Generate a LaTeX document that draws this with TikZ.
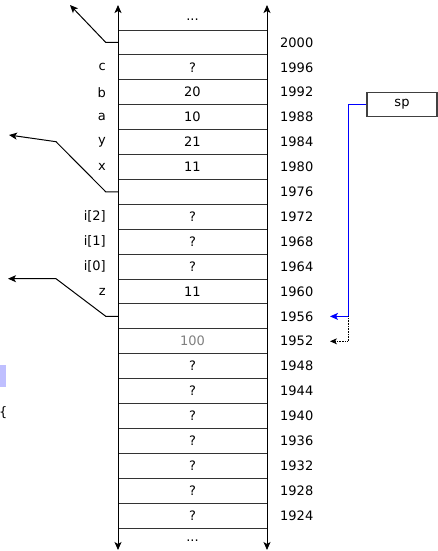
\documentclass[tikz,border=0pt]{standalone}
\usepackage{fontspec}
\setmainfont{DejaVu Sans}
\usetikzlibrary{arrows.meta,calc}
\begin{document}
\begin{tikzpicture}[x=1pt,y=-1pt,
  txt/.style={inner sep=0pt,font=\fontsize{13}{15}\selectfont},
  cell/.style={inner sep=0pt,minimum width=149pt,minimum height=24.9pt,font=\fontsize{13}{15}\selectfont},
  addr/.style={txt,anchor=west},
  var/.style={txt,anchor=east},
  rowline/.style={draw=black!80,line width=0.9pt},
  axis/.style={draw=black,line width=1pt,{Stealth[length=8pt,width=7pt,inset=2pt]}-{Stealth[length=8pt,width=7pt,inset=2pt]}},
  link/.style={draw=black,line width=1pt,-{Stealth[length=8pt,width=7pt,inset=2pt]}},
  spbox/.style={draw=black!75,line width=1.1pt,minimum width=70pt,minimum height=24pt,inner sep=0pt,font=\fontsize{13}{15}\selectfont},
  ptr/.style={draw=blue,line width=1pt,-{Stealth[length=8pt,width=7pt,inset=2pt]}},
  oldptr/.style={draw=black,line width=0.8pt,dash pattern=on 0.8pt off 0.8pt,-{Stealth[length=7pt,width=6pt,inset=2pt]}}
]
\useasboundingbox (0,0) rectangle (438,551);
% lavender fragment and brace at left edge
\fill[blue!25] (0,365) rectangle (6,387);
\node[txt,anchor=west] (brace) at (-1,413) {\{};
% cells
\foreach \k/\v/\a in {0//2000,1/?/1996,2/20/1992,3/10/1988,4/21/1984,5/11/1980,6//1976,7/?/1972,8/?/1968,9/?/1964,10/11/1960,11//1956,12/\textcolor{black!50}{100}/1952,13/?/1948,14/?/1944,15/?/1940,16/?/1936,17/?/1932,18/?/1928,19/?/1924}{
  \node[cell] (c\k) at (192.5,42.45+24.9*\k) {\v};
  \node[addr] (a\k) at (280,42.45+24.9*\k) {\a};
}
\foreach \k in {0,...,20}{
  \draw[rowline] (118,30+24.9*\k) -- (267,30+24.9*\k);
}
\node[txt] (topdots) at (192.5,20) {...};
\node[txt] (botdots) at (192.5,541) {...};
% variable names
\foreach \k/\n in {1/c,2/b,3/a,4/y,5/x,7/{i[2]},8/{i[1]},9/{i[0]},10/z}{
  \node[var] (v\k) at (106,42.45+24.9*\k) {\n};
}
% axes
\coordinate (lt) at (118,5);
\coordinate (lb) at (118,550);
\coordinate (rt) at (267,5);
\coordinate (rb) at (267,550);
\draw[axis] (lt) -- (lb);
\draw[axis] (rt) -- (rb);
% frame links
\coordinate (f1) at (70,5);
\coordinate (e2) at (56,141.7);
\coordinate (f2) at (9,135);
\coordinate (e3) at (56,278.7);
\coordinate (f3) at (8,278.7);
\draw[link] (c0.west) -- ++(-12,0) -- (f1);
\draw[link] (c6.west) -- ++(-12,0) -- (e2) -- (f2);
\draw[link] (c11.west) -- ++(-12,0) -- (e3) -- (f3);
% stack pointer
\node[spbox] (sp) at (402,104.3) {sp};
\coordinate (tipA) at (330,316.4);
\coordinate (tipB) at (330,341.3);
\coordinate (bend) at (348,316.4);
\draw[ptr] (sp.west) -| (bend) -- (tipA);
\draw[oldptr] (bend) |- (tipB);
\end{tikzpicture}
\end{document}
